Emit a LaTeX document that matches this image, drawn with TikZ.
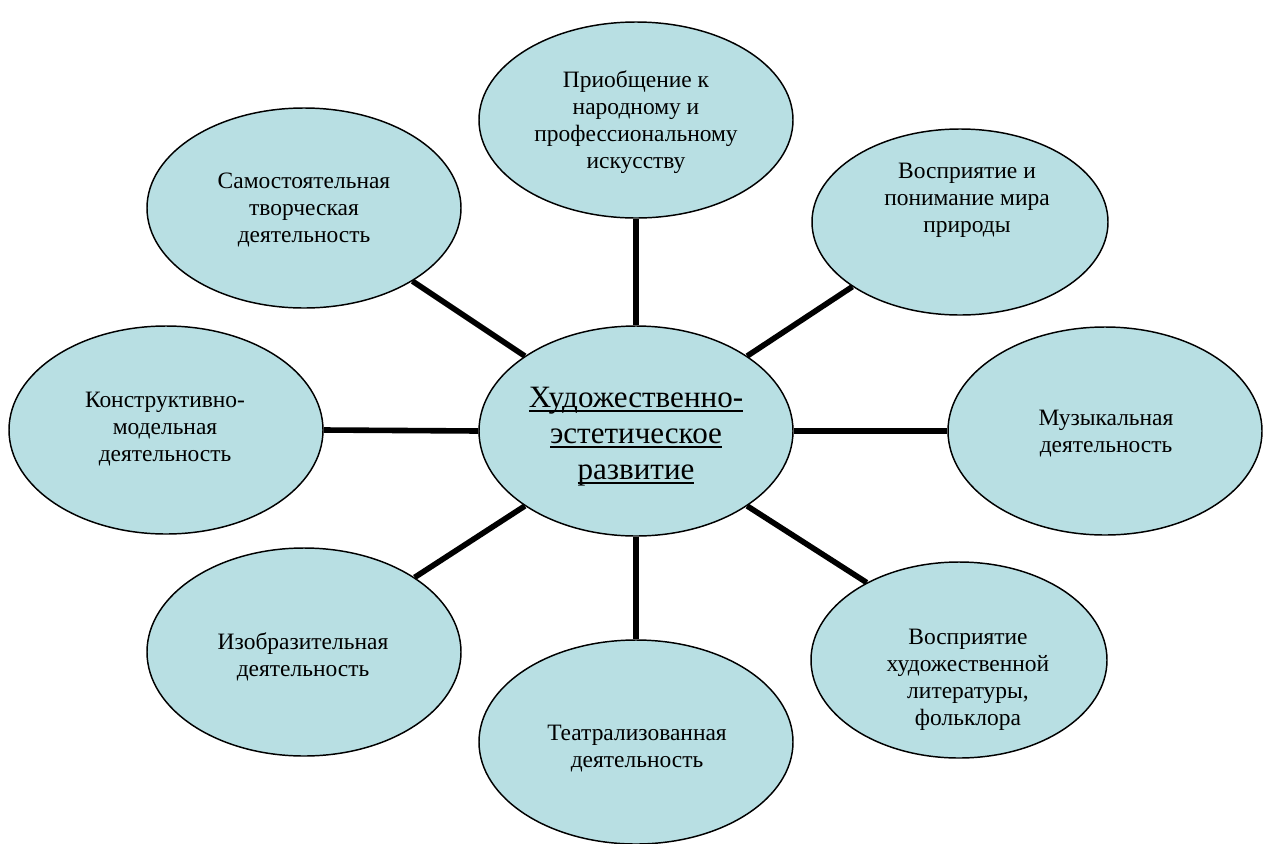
\documentclass[tikz,border=0pt]{standalone}
\usepackage{fontspec}
\setmainfont{Liberation Serif}
\usetikzlibrary{shapes.geometric}
\definecolor{bubble}{RGB}{184,223,227}
\newcommand\myul[1]{\setbox0\hbox{#1}\rlap{\rule[-3.2pt]{\wd0}{1.5pt}}\box0}
\begin{document}
\begin{tikzpicture}[x=0.75pt,y=-0.75pt,
  el/.style 2 args={ellipse, draw=black, line width=1.1pt, fill=bubble,
    inner sep=0pt, minimum width=#1*1.5pt, minimum height=#2*1.5pt},
  lbl/.style={align=center, inner sep=0pt, font=\fontsize{17.6}{20.3}\selectfont},
  conn/.style={line width=4.2pt, black}]
\useasboundingbox (0,0) rectangle (1271,843);
% ellipses
\node[el={157}{105}] (c)  at (636,431) {};
\node[el={157}{98}]  (t)  at (636,120) {};
\node[el={148}{93}]  (tr) at (960,222) {};
\node[el={157}{104}] (r)  at (1105,431) {};
\node[el={148}{98}]  (br) at (959,660) {};
\node[el={157}{102}] (b)  at (636,742) {};
\node[el={157}{104}] (bl) at (304,652) {};
\node[el={157}{104}] (l)  at (166,430) {};
\node[el={157}{100}] (tl) at (304,208) {};
% connectors
\draw[conn] (c.north) -- (t.south);
\draw[conn] (c.south) -- (b.north);
\draw[conn] (c.west) -- (l.east);
\draw[conn] (c.east) -- (r.west);
\draw[conn] (c.146) -- (tl.-34);
\draw[conn] (c.34) -- (tr.211);
\draw[conn] (c.-146) -- (bl.34);
\draw[conn] (c.-34) -- (br.140.5);
% texts
\node[align=center, inner sep=0pt, font=\fontsize{23.3}{27}\selectfont] (ct) at (636,437)
  {\myul{Художественно-}\\\myul{эстетическое}\\\myul{развитие}};
\node[lbl] (tt)  at (636,122) {Приобщение к\\народному и\\профессиональному\\искусству};
\node[lbl] (trt) at (967,200) {Восприятие и\\понимание мира\\природы};
\node[lbl] (rt)  at (1106,434) {Музыкальная\\деятельность};
\node[lbl] (brt) at (968,680) {Восприятие\\художественной\\литературы,\\фольклора};
\node[lbl] (bt)  at (637,749) {Театрализованная\\деятельность};
\node[lbl] (blt) at (303,657) {Изобразительная\\деятельность};
\node[lbl] (lt)  at (165,429) {Конструктивно-\\модельная\\деятельность};
\node[lbl] (tlt) at (304,210) {Самостоятельная\\творческая\\деятельность};
\end{tikzpicture}
\end{document}
